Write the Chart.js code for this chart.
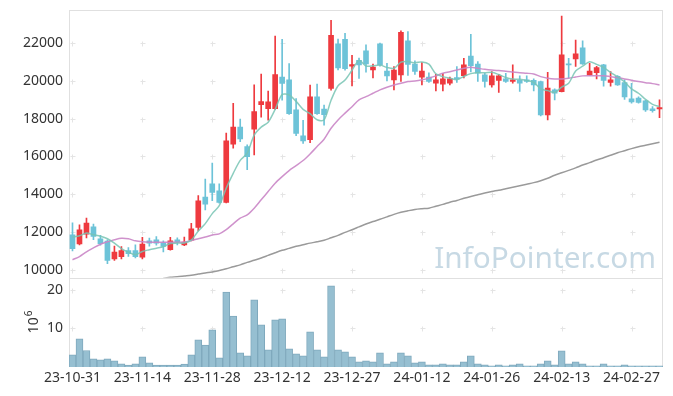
<!DOCTYPE html>
<html>
<head>
<meta charset="utf-8">
<script src="https://cdn.jsdelivr.net/npm/chart.js@4.4.1/dist/chart.umd.min.js"></script>
<style>
    html, body { margin: 0; padding: 0; background: #fff; }
    .diagram-container { width: 673px; height: 396px; position: relative; }
</style>
</head>
<body>
<div class="diagram-container"><canvas id="kursDiagram"></canvas></div>
<script>
// Handelsdagar (x-axeln)
const dates = [
    '23-10-31','23-11-01','23-11-02','23-11-03','23-11-06','23-11-07','23-11-08','23-11-09','23-11-10','23-11-13',
    '23-11-14','23-11-15','23-11-16','23-11-17','23-11-20','23-11-21','23-11-22','23-11-23','23-11-24','23-11-27',
    '23-11-28','23-11-29','23-11-30','23-12-01','23-12-04','23-12-05','23-12-06','23-12-07','23-12-08','23-12-11',
    '23-12-12','23-12-13','23-12-14','23-12-15','23-12-18','23-12-19','23-12-20','23-12-21','23-12-22','23-12-26',
    '23-12-27','23-12-28','24-01-02','24-01-03','24-01-04','24-01-05','24-01-08','24-01-09','24-01-10','24-01-11',
    '24-01-12','24-01-15','24-01-16','24-01-17','24-01-18','24-01-19','24-01-22','24-01-23','24-01-24','24-01-25',
    '24-01-26','24-01-29','24-01-30','24-01-31','24-02-01','24-02-02','24-02-05','24-02-06','24-02-07','24-02-08',
    '24-02-13','24-02-14','24-02-15','24-02-16','24-02-19','24-02-20','24-02-21','24-02-22','24-02-23','24-02-26',
    '24-02-27','24-02-28','24-02-29','24-03-04','24-03-05'
];

// Kurser
const opens = [
    11850,11370,11880,12270,11640,11520,10570,10690,11010,11010,
    10660,11530,11590,11430,11060,11590,11320,11560,12240,13840,
    14550,14180,13560,16650,17550,16520,17440,18740,18530,18530,
    20190,20050,18460,17090,16890,19150,18500,19600,21950,22200,
    20770,21080,21580,20570,21950,20520,20050,20310,22110,20890,
    20190,20190,19870,19820,19870,20170,20270,21310,20890,20310,
    19780,20020,20100,19960,20020,20050,20020,19960,18200,19520,
    19430,20870,21160,21740,20310,20430,20840,19910,20230,19910,
    19040,19090,18940,18510,18510
];
const highs = [
    12480,12380,12730,12420,11820,11590,11250,11220,11180,11320,
    11720,11680,11750,11530,11720,11690,11730,12460,13930,14800,
    15640,14550,17230,18810,17970,16610,19780,20360,19450,22370,
    22200,20910,19060,17910,19770,19830,18720,23200,22210,22510,
    21350,21200,21900,20890,22000,20930,20750,22640,22610,21050,
    20960,20420,20340,20390,20190,20750,21190,22460,21010,20390,
    20490,20340,20400,20840,20260,20260,20100,19990,20450,19570,
    23430,21190,22160,22110,20930,20770,20870,20490,20280,20050,
    19870,19150,18960,18630,18990
];
const lows = [
    11000,11320,11690,11590,11300,10320,10500,10580,10700,10620,
    10580,11250,11300,10950,11030,11320,11270,11530,12060,13170,
    13650,13530,13540,16440,16780,15290,16080,18070,17910,18490,
    18970,18220,17090,16680,16730,18220,17650,19510,20570,20560,
    19730,20130,20450,20150,20770,19990,19520,19970,20280,20340,
    19780,19920,19460,19460,19780,19910,20150,20470,19960,19660,
    19660,19390,19910,19870,19440,19910,19470,18140,17930,18990,
    19410,20150,20760,20870,20280,20100,19710,19710,19760,19010,
    18810,18810,18380,18340,18050
];
const closes = [
    11110,12110,12470,11760,11380,10500,10940,11010,10850,10690,
    11360,11410,11410,11230,11530,11470,11470,12160,13650,13470,
    14090,13560,16820,17550,16930,15990,18370,18900,18880,20330,
    19860,18260,17210,16820,19150,18260,18210,22410,20680,20640,
    20860,20840,20890,20720,20840,20260,20570,22570,20870,20490,
    20520,19960,20050,20100,20100,20080,20840,20800,20400,19960,
    20260,20260,19960,20050,19870,19960,19780,18200,19610,19340,
    21370,20840,21420,20890,20520,20700,20020,20050,19780,19140,
    18880,18850,18460,18420,18580
];

// Glidande medelvärden, avlästa från linjerna
const ma5 = [
    11730,11800,11940,11850,11770,11640,11410,11120,10930,10800,
    10970,11060,11140,11220,11390,11410,11420,11570,12050,12440,
    12970,13390,14320,15100,15790,16170,17130,17550,17810,18490,
    19270,19250,18910,18490,18260,17940,17930,18970,19740,20040,
    20560,21080,20780,20790,20830,20710,20660,20990,21020,20950,
    21000,20880,20370,20220,20140,20060,20230,20380,20440,20420,
    20450,20330,20170,20090,20080,20020,19920,19570,19480,19380,
    19660,19870,20520,20770,21010,20870,20710,20440,20210,19940,
    19570,19340,19020,18750,18640
];
const ma20 = [
    10530,10700,10950,11160,11350,11480,11590,11670,11640,11530,
    11480,11460,11460,11460,11460,11460,11470,11550,11640,11730,
    11840,11900,12120,12430,12730,12910,13260,13700,14140,14580,
    14930,15250,15510,15780,16130,16520,16910,17490,17930,18290,
    18630,18990,19160,19340,19520,19660,19780,19870,19960,19990,
    20050,20140,20260,20400,20480,20570,20660,20710,20660,20610,
    20570,20540,20510,20470,20430,20400,20360,20220,20140,20100,
    20100,20140,20200,20260,20270,20270,20270,20220,20170,20100,
    20030,19960,19900,19850,19780
];
const ma120 = [
    null,null,null,null,null,null,null,null,null,null,
    null,null,null,9550,9600,9630,9670,9710,9770,9830,
    9880,9960,10050,10160,10260,10390,10500,10620,10760,10900,
    11030,11130,11240,11320,11410,11480,11560,11690,11820,11980,
    12120,12270,12420,12550,12670,12800,12930,13040,13120,13190,
    13230,13260,13360,13460,13570,13670,13780,13880,13970,14060,
    14140,14210,14290,14370,14450,14530,14610,14710,14840,15000,
    15130,15260,15390,15540,15670,15810,15930,16060,16190,16300,
    16410,16510,16590,16670,16750
];

// Volym i miljoner (10^6)
const volume = [
    3.15,7.3,4.26,2.1,1.85,2.1,1.6,0.83,0.47,0.83,
    2.63,1.08,0.47,0.47,0.47,0.47,0.73,3.15,7.0,5.7,
    9.6,2.37,19.4,13.2,3.66,2.9,17.4,10.9,4.44,12.2,
    12.45,4.7,3.4,2.9,9.1,4.44,2.63,21.0,4.44,3.93,
    2.63,1.34,1.6,1.34,3.66,0.83,1.34,3.66,2.9,1.08,
    1.34,0.57,0.57,0.83,0.57,0.57,1.34,2.9,0.83,0.57,
    0.3,0.57,0.3,0.57,0.83,0.3,0.3,0.83,1.6,0.57,
    4.2,0.83,1.34,0.83,0.3,0.3,0.83,0.3,0.3,0.57,
    0.3,0.3,0.3,0.3,0.3
];

// Skalstreck
const priceTicks = [10000, 12000, 14000, 16000, 18000, 20000, 22000];
const volumeTicks = [10, 20];

const Kurs = {};

Kurs.rod = '#ee3a3f';
Kurs.bla = '#6dc3d8';
Kurs.farger = closes.map((c, i) => c >= opens[i] ? Kurs.rod : Kurs.bla);
Kurs.font = { family: 'Noto Sans', size: 14 };

// Bakgrund, ram och små kors vid rutnätets skärningspunkter
Kurs.panelPlugin = {
    id: 'panels',
    beforeDraw(chart) {
        const { ctx, chartArea: a, scales } = chart;
        ctx.save();
        ctx.fillStyle = '#fff';
        ctx.fillRect(0, 0, chart.width, chart.height);

        ctx.strokeStyle = '#e4e4e4';
        ctx.lineWidth = 1;
        const xs = dates.map((d, i) => i).filter(i => i % 10 === 0).map(i => Math.round(scales.x.getPixelForValue(i)) + 0.5);
        const ys = priceTicks.map(v => scales.y.getPixelForValue(v))
            .concat(volumeTicks.map(v => scales.yv.getPixelForValue(v)))
            .map(y => Math.round(y) + 0.5);
        xs.forEach(x => ys.forEach(y => {
            ctx.beginPath();
            ctx.moveTo(x - 2, y); ctx.lineTo(x + 3, y);
            ctx.moveTo(x, y - 2); ctx.lineTo(x, y + 3);
            ctx.stroke();
        }));

        ctx.strokeStyle = '#e0e0e0';
        ctx.strokeRect(Math.round(a.left) + 0.5, Math.round(a.top) + 0.5, Math.round(a.width) - 1, Math.round(a.height) - 1);
        const mitt = Math.round(scales.y.bottom) + 0.5;
        ctx.beginPath();
        ctx.moveTo(a.left, mitt); ctx.lineTo(a.right, mitt);
        ctx.stroke();
        ctx.restore();
    },
    beforeDatasetsDraw(chart) {
        // Vattenstämpel
        const { ctx, scales } = chart;
        ctx.save();
        let size = 33;
        ctx.font = size + 'px "Noto Sans"';
        const w = ctx.measureText('InfoPointer.com').width;
        size = size * 222 / w;
        ctx.font = size + 'px "Noto Sans"';
        ctx.fillStyle = '#c7d9e4';
        ctx.textAlign = 'right';
        ctx.textBaseline = 'alphabetic';
        ctx.fillText('InfoPointer.com', 656, Math.round(scales.y.bottom) - 10);
        ctx.restore();
    },
    beforeDatasetDraw(chart, args) {
        // Klipp varje dataserie till sin egen panel
        const ys = chart.scales[args.meta.yAxisID];
        const a = chart.chartArea;
        chart.ctx.save();
        chart.ctx.beginPath();
        chart.ctx.rect(a.left, ys.top, a.right - a.left, ys.bottom - ys.top);
        chart.ctx.clip();
    },
    afterDatasetDraw(chart) {
        chart.ctx.restore();
    },
    afterDraw(chart) {
        // Axeltitel 10^6 för volymen
        const { ctx, scales } = chart;
        const cy = (scales.yv.top + scales.yv.bottom) / 2;
        ctx.save();
        ctx.translate(37.5, cy + 11);
        ctx.rotate(-Math.PI / 2);
        ctx.fillStyle = '#333';
        ctx.font = '14px "Noto Sans"';
        ctx.textBaseline = 'alphabetic';
        ctx.fillText('10', 0, 0);
        const w = ctx.measureText('10').width;
        ctx.font = '10px "Noto Sans"';
        ctx.fillText('6', w + 1, -6);
        ctx.restore();
    }
};

// Fast bredd och ingen extra utfyllnad för y-axlarna
Kurs.fastBredd = s => { s.width = 69; s.paddingTop = 0; s.paddingBottom = 0; };

Kurs.ctx = document.getElementById('kursDiagram').getContext('2d');

Kurs.diagram = new Chart(Kurs.ctx, {
    type: 'bar',
    data: {
        labels: dates,
        datasets: [
            {
                type: 'line', label: 'MA5', data: ma5, yAxisID: 'y',
                borderColor: 'rgba(120,196,180,0.85)', borderWidth: 1.5,
                pointRadius: 0, tension: 0.3, order: 0
            },
            {
                type: 'line', label: 'MA20', data: ma20, yAxisID: 'y',
                borderColor: 'rgba(202,134,198,0.9)', borderWidth: 1.5,
                pointRadius: 0, tension: 0.3, order: 0
            },
            {
                type: 'line', label: 'MA120', data: ma120, yAxisID: 'y',
                borderColor: '#9a9a9a', borderWidth: 1.5,
                pointRadius: 0, tension: 0.3, order: 0
            },
            {
                label: 'Kropp', data: opens.map((o, i) => [o, closes[i]]), yAxisID: 'y',
                backgroundColor: Kurs.farger, barThickness: 5, grouped: false, minBarLength: 1, order: 1
            },
            {
                label: 'Veke', data: lows.map((l, i) => [l, highs[i]]), yAxisID: 'y',
                backgroundColor: Kurs.farger, barThickness: 1, grouped: false, order: 2
            },
            {
                label: 'Volym', data: volume, yAxisID: 'yv',
                backgroundColor: 'rgba(150,191,209,1)', borderColor: '#7fa9bd', borderWidth: 1,
                barPercentage: 1, categoryPercentage: 1, grouped: false, order: 3
            }
        ]
    },
    options: {
        responsive: true,
        maintainAspectRatio: false,
        animation: false,
        layout: { padding: { top: 10, right: 10, left: 0, bottom: 0 } },
        plugins: { legend: { display: false }, tooltip: { enabled: false } },
        scales: {
            x: {
                type: 'category',
                offset: true,
                grid: { display: false, drawTicks: false },
                border: { display: false },
                ticks: {
                    autoSkip: false, maxRotation: 0, padding: 3,
                    color: '#333', font: Kurs.font,
                    callback: (v, i) => i % 10 === 0 ? dates[i] : ''
                },
                afterFit: s => { s.height = 29; }
            },
            y: {
                type: 'linear', position: 'left', stack: 'pane', stackWeight: 3, weight: 2,
                min: 9577, max: 23746,
                grid: { display: false, drawTicks: false },
                border: { display: false },
                ticks: { padding: 6, color: '#333', font: Kurs.font, callback: v => String(v) },
                afterBuildTicks: s => { s.ticks = priceTicks.map(v => ({ value: v })); },
                afterFit: Kurs.fastBredd
            },
            yv: {
                type: 'linear', position: 'left', stack: 'pane', stackWeight: 1, weight: 1,
                min: 0, max: 23.1,
                grid: { display: false, drawTicks: false },
                border: { display: false },
                ticks: { padding: 6, color: '#333', font: Kurs.font, callback: v => String(v) },
                afterBuildTicks: s => { s.ticks = volumeTicks.map(v => ({ value: v })); },
                afterFit: Kurs.fastBredd
            }
        }
    },
    plugins: [Kurs.panelPlugin]
});
</script>
</body>
</html>
